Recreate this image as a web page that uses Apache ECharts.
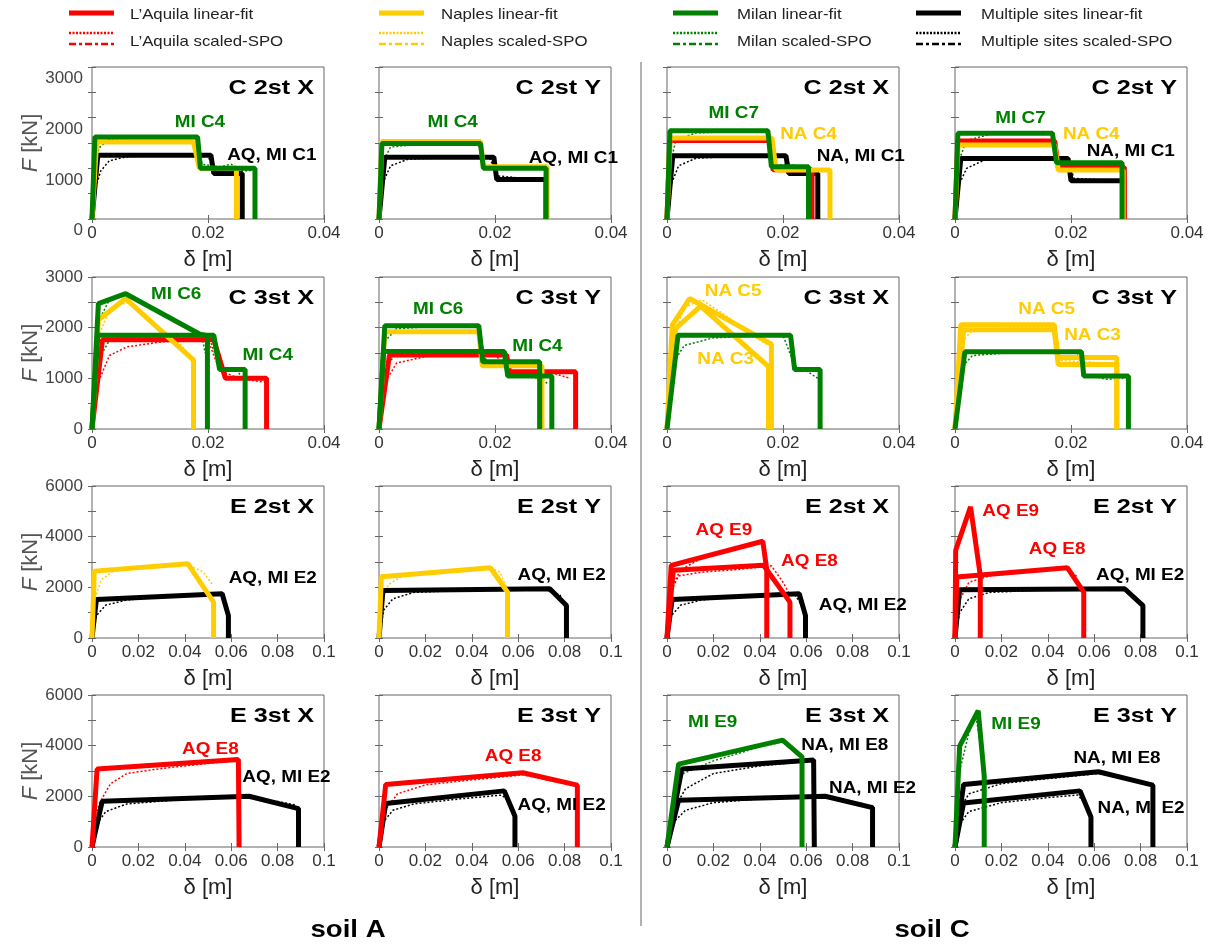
<!DOCTYPE html>
<html>
<head>
<meta charset="utf-8">
<script src="https://cdn.jsdelivr.net/npm/echarts@6/dist/echarts.min.js"></script>
<style>
  html, body { margin: 0; padding: 0; background: #fff; }
  #main { width: 1211px; height: 945px; }
</style>
</head>
<body>
<div id="main"></div>
<script>
// ---- linear-fit curves [delta (m), F (kN)] ----
// soil A, C 2st X
var A_C2X_MS = [[0,0],[0.001,1260],[0.0205,1260],[0.021,900],[0.0259,900],[0.0259,0]];
var A_C2X_NA = [[0,0],[0.0008,1520],[0.0175,1520],[0.0185,1000],[0.0249,1000],[0.0249,0]];
var A_C2X_MI = [[0,0],[0.0005,1620],[0.0182,1620],[0.0187,1000],[0.0281,1000],[0.0281,0]];
// soil A, C 2st Y
var A_C2Y_MS = [[0,0],[0.001,1220],[0.0198,1220],[0.0203,780],[0.0288,780],[0.0288,0]];
var A_C2Y_NA = [[0,0],[0.0005,1530],[0.0175,1530],[0.018,1030],[0.029,1030],[0.029,0]];
var A_C2Y_MI = [[0,0],[0.0005,1490],[0.0175,1490],[0.018,1000],[0.0288,1000],[0.0288,0]];
// soil C, C 2st X
var C_C2X_MS = [[0,0],[0.001,1250],[0.0205,1250],[0.021,900],[0.026,900],[0.026,0]];
var C_C2X_AQ = [[0,0],[0.0005,1550],[0.0176,1550],[0.0183,970],[0.025,970],[0.025,0]];
var C_C2X_NA = [[0,0],[0.0005,1600],[0.0181,1600],[0.0188,965],[0.0281,965],[0.0281,0]];
var C_C2X_MI = [[0,0],[0.0005,1740],[0.0174,1740],[0.018,1030],[0.0244,1030],[0.0244,0]];
// soil C, C 2st Y
var C_C2Y_MS = [[0,0],[0.001,1195],[0.0195,1195],[0.02,755],[0.0291,755],[0.0291,0]];
var C_C2Y_AQ = [[0,0],[0.0005,1540],[0.0172,1540],[0.0178,1020],[0.0292,1020],[0.0292,0]];
var C_C2Y_NA = [[0,0],[0.0005,1460],[0.0172,1460],[0.0178,965],[0.029,965],[0.029,0]];
var C_C2Y_MI = [[0,0],[0.0005,1690],[0.0168,1690],[0.0175,1110],[0.0288,1110],[0.0288,0]];
// soil A, C 3st X
var A_C3X_AQ = [[0,0],[0.0018,1760],[0.021,1760],[0.023,1000],[0.0301,1000],[0.0301,0]];
var A_C3X_NA = [[0,0],[0.0011,2150],[0.0058,2575],[0.0175,1360],[0.0175,0]];
var A_C3X_MI6 = [[0,0],[0.0011,2475],[0.0058,2670],[0.0186,1870],[0.0199,1840],[0.0199,0]];
var A_C3X_MI4 = [[0,0],[0.001,1850],[0.021,1850],[0.022,1175],[0.0264,1175],[0.0264,0]];
// soil A, C 3st Y
var A_C3Y_AQ = [[0,0],[0.0018,1460],[0.022,1460],[0.0225,1130],[0.0339,1130],[0.0339,0]];
var A_C3Y_NA = [[0,0],[0.001,1920],[0.0172,1920],[0.0178,1250],[0.0281,1250],[0.0281,0]];
var A_C3Y_MI6 = [[0,0],[0.001,2040],[0.0172,2040],[0.0179,1325],[0.0277,1325],[0.0277,0]];
var A_C3Y_MI4 = [[0,0],[0.0008,1530],[0.0216,1530],[0.0222,1045],[0.0298,1045],[0.0298,0]];
// soil C, C 3st X
var C_C3X_NA5 = [[0,0],[0.0009,2050],[0.0039,2575],[0.018,1675],[0.018,0]];
var C_C3X_NA3 = [[0,0],[0.0015,1985],[0.0058,2425],[0.0175,1230],[0.0175,0]];
var C_C3X_MI = [[0,0],[0.0019,1850],[0.0213,1850],[0.022,1175],[0.0264,1175],[0.0264,0]];
// soil C, C 3st Y
var C_C3Y_NA5 = [[0,0],[0.001,2060],[0.0171,2060],[0.0178,1410],[0.0279,1410],[0.0279,0]];
var C_C3Y_NA3 = [[0,0],[0.0015,1960],[0.0171,1960],[0.0178,1275],[0.0279,1275],[0.0279,0]];
var C_C3Y_MI = [[0,0],[0.0017,1525],[0.0218,1525],[0.0222,1045],[0.0299,1045],[0.0299,0]];
// soil A, E 2st X / Y
var A_E2X_MS = [[0,0],[0.0019,1520],[0.0561,1745],[0.0588,885],[0.0588,0]];
var A_E2X_NA = [[0,0],[0.001,2640],[0.0413,2935],[0.0524,1415],[0.0524,0]];
var A_E2Y_MS = [[0,0],[0.0017,1875],[0.0736,1945],[0.0808,1280],[0.0808,0]];
var A_E2Y_NA = [[0,0],[0.001,2420],[0.048,2775],[0.0554,1810],[0.0554,0]];
// soil C, E 2st X / Y
var C_E2X_MS = [[0,0],[0.0022,1520],[0.057,1745],[0.0597,885],[0.0597,0]];
var C_E2X_AQ9 = [[0,0],[0.0018,2870],[0.0413,3820],[0.043,2700],[0.043,0]];
var C_E2X_AQ8 = [[0,0],[0.0027,2670],[0.0416,2870],[0.053,1415],[0.053,0]];
var C_E2Y_MS = [[0,0],[0.002,1905],[0.0731,1945],[0.081,1280],[0.081,0]];
var C_E2Y_AQ9 = [[0,0],[0.0003,3465],[0.0067,5180],[0.0109,2470],[0.0109,0]];
var C_E2Y_AQ8 = [[0,0],[0.0008,2405],[0.0484,2775],[0.0555,1810],[0.0555,0]];
// soil A, E 3st X / Y
var A_E3X_MS = [[0,0],[0.0044,1805],[0.0677,2005],[0.089,1515],[0.089,0]];
var A_E3X_AQ = [[0,0],[0.0022,3075],[0.0631,3455],[0.0634,0]];
var A_E3Y_MS = [[0,0],[0.0029,1715],[0.054,2215],[0.0586,1215],[0.0586,0]];
var A_E3Y_AQ = [[0,0],[0.0029,2465],[0.062,2930],[0.0855,2440],[0.0855,0]];
// soil C, E 3st X / Y
var C_E3X_MS2 = [[0,0],[0.005,1845],[0.0682,2005],[0.0886,1555],[0.0886,0]];
var C_E3X_MS8 = [[0,0],[0.0064,3075],[0.0632,3430],[0.0635,0]];
var C_E3X_MI = [[0,0],[0.005,3270],[0.0498,4220],[0.0582,3560],[0.0582,0]];
var C_E3Y_MS2 = [[0,0],[0.0037,1740],[0.0539,2215],[0.0586,1185],[0.0586,0]];
var C_E3Y_MS8 = [[0,0],[0.0037,2465],[0.0618,2970],[0.0853,2440],[0.0853,0]];
var C_E3Y_MI = [[0,0],[0.002,3985],[0.01,5380],[0.0126,2795],[0.0126,0]];

// ---- scaled-SPO curves (thin, dotted) ----
var A_C2X_MS_spo = [[0,0],[0.0006,600],[0.0015,950],[0.003,1150],[0.006,1230],[0.012,1250],[0.02,1250],[0.0205,1100],[0.022,960],[0.024,920],[0.0255,880]];
var A_C2X_MI_spo = [[0,0],[0.0004,900],[0.0012,1400],[0.003,1580],[0.01,1620],[0.0178,1610],[0.019,1080],[0.022,1030],[0.024,1080],[0.026,950],[0.028,960]];
var A_C2Y_MS_spo = [[0,0],[0.0006,700],[0.002,1050],[0.005,1180],[0.012,1210],[0.019,1220],[0.0205,850],[0.028,770]];
var A_C2Y_MI_spo = [[0,0],[0.0005,1100],[0.002,1420],[0.008,1490],[0.017,1500],[0.0182,1050],[0.025,1000],[0.0285,980]];
var C_C2X_MS_spo = [[0,0],[0.0006,650],[0.002,1050],[0.005,1200],[0.012,1240],[0.0202,1250],[0.021,950],[0.024,880],[0.0258,860]];
var C_C2X_MI_spo = [[0,0],[0.0004,1000],[0.0015,1550],[0.005,1700],[0.017,1740],[0.0185,1060],[0.021,1080],[0.024,1000]];
var C_C2Y_MS_spo = [[0,0],[0.0006,650],[0.002,1000],[0.005,1160],[0.012,1190],[0.0195,1200],[0.0205,800],[0.028,760]];
var C_C2Y_MI_spo = [[0,0],[0.0005,1100],[0.002,1550],[0.006,1670],[0.0165,1690],[0.018,1120],[0.022,1100],[0.0285,1080]];
var A_C3X_AQ_spo = [[0,0],[0.001,900],[0.003,1450],[0.006,1620],[0.012,1720],[0.02,1760],[0.022,1150],[0.025,1020],[0.028,950],[0.03,920]];
var A_C3X_MI4_spo = [[0,0],[0.0008,1300],[0.003,1750],[0.008,1830],[0.02,1860],[0.0215,1400],[0.023,1200],[0.025,1150],[0.026,1000]];
var A_C3X_MI6_spo = [[0,0],[0.001,2100],[0.003,2550],[0.006,2650],[0.01,2400],[0.015,2100],[0.019,1800],[0.0195,1500]];
var A_C3X_NA_spo = [[0,0],[0.001,1800],[0.003,2350],[0.006,2500],[0.01,2150],[0.015,1700],[0.0175,1350]];
var A_C3Y_AQ_spo = [[0,0],[0.001,900],[0.003,1300],[0.008,1430],[0.02,1470],[0.0225,1150],[0.03,1100],[0.033,1000]];
var A_C3Y_MI4_spo = [[0,0],[0.0008,1200],[0.003,1480],[0.01,1530],[0.021,1540],[0.0225,1060],[0.028,1000],[0.029,900]];
var A_C3Y_MI6_spo = [[0,0],[0.0008,1700],[0.003,1980],[0.01,2030],[0.017,2040],[0.0185,1330],[0.027,1300]];
var C_C3X_MI_spo = [[0,0],[0.001,1300],[0.003,1650],[0.008,1800],[0.02,1850],[0.022,1250],[0.024,1150],[0.026,1000]];
var C_C3X_NA_spo = [[0,0],[0.001,1800],[0.003,2400],[0.006,2550],[0.01,2250],[0.014,1900],[0.0175,1650]];
var C_C3Y_MI_spo = [[0,0],[0.001,1200],[0.003,1450],[0.01,1510],[0.021,1530],[0.0225,1080],[0.026,980],[0.029,1000]];
var C_C3Y_NA_spo = [[0,0],[0.001,1700],[0.003,1950],[0.01,2000],[0.017,2010],[0.018,1350],[0.027,1300]];
var A_E2X_MS_spo = [[0,0],[0.002,900],[0.006,1300],[0.015,1500],[0.03,1620],[0.05,1720],[0.056,1720],[0.058,1300]];
var A_E2X_NA_spo = [[0,0],[0.001,1500],[0.004,2300],[0.01,2700],[0.025,2800],[0.04,2950],[0.048,2600],[0.052,2100]];
var A_E2Y_MS_spo = [[0,0],[0.002,1100],[0.006,1550],[0.015,1800],[0.04,1900],[0.07,1940],[0.078,1700],[0.08,1350]];
var A_E2Y_NA_spo = [[0,0],[0.001,1400],[0.004,2100],[0.01,2450],[0.03,2600],[0.048,2780],[0.052,2600],[0.055,2000]];
var C_E2X_MS_spo = [[0,0],[0.002,900],[0.006,1300],[0.015,1500],[0.03,1620],[0.055,1730],[0.058,1300]];
var C_E2X_AQ9_spo = [[0,0],[0.002,2000],[0.006,2700],[0.015,3150],[0.03,3550],[0.04,3750]];
var C_E2X_AQ8_spo = [[0,0],[0.002,1900],[0.005,2450],[0.015,2600],[0.03,2700],[0.045,2850],[0.05,2200],[0.053,1700]];
var C_E2Y_MS_spo = [[0,0],[0.002,1000],[0.006,1550],[0.015,1800],[0.04,1900],[0.072,1940],[0.078,1600]];
var C_E2Y_AQ8_spo = [[0,0],[0.002,1500],[0.006,2200],[0.015,2450],[0.03,2600],[0.048,2750],[0.053,2400]];
var A_E3X_MS_spo = [[0,0],[0.002,900],[0.006,1400],[0.015,1700],[0.04,1880],[0.065,1950],[0.08,1800],[0.088,1650]];
var A_E3X_AQ_spo = [[0,0],[0.003,1700],[0.008,2500],[0.015,2900],[0.03,3100],[0.06,3400]];
var A_E3Y_MS_spo = [[0,0],[0.002,1000],[0.006,1450],[0.015,1700],[0.035,1900],[0.053,2050],[0.057,1700]];
var A_E3Y_AQ_spo = [[0,0],[0.003,1500],[0.008,2100],[0.02,2450],[0.04,2650],[0.062,2850],[0.07,2700],[0.08,2500]];
var C_E3X_MS2_spo = [[0,0],[0.003,1000],[0.008,1450],[0.02,1750],[0.04,1900],[0.068,2000],[0.085,1700]];
var C_E3X_MS8_spo = [[0,0],[0.003,1500],[0.008,2300],[0.02,2900],[0.04,3200],[0.062,3400]];
var C_E3X_MI_spo = [[0,0],[0.003,2300],[0.007,2900],[0.02,3400],[0.04,3950],[0.05,4150]];
var C_E3Y_MS2_spo = [[0,0],[0.002,900],[0.006,1400],[0.02,1750],[0.04,1950],[0.053,2050],[0.057,1600]];
var C_E3Y_MS8_spo = [[0,0],[0.002,1500],[0.006,2100],[0.02,2500],[0.04,2700],[0.062,2900],[0.075,2700],[0.083,2450]];
var C_E3Y_MI_spo = [[0,0],[0.002,3000],[0.006,4500],[0.009,5200],[0.011,4000]];

// tick values
var X_TICKS_C = [0, 0.02, 0.04];
var X_TICKS_E = [0, 0.02, 0.04, 0.06, 0.08, 0.1];
var Y_TICKS_C = [0, 1000, 2000, 3000];
var Y_TICKS_E = [0, 2000, 4000, 6000];

var LEGEND_SITES = ['L\u2019Aquila', 'Naples', 'Milan', 'Multiple sites'];

// panels, row by row (soil A, soil A, soil C, soil C)
var PANELS = [
  { title: 'C 2st X', fits: [['MS', A_C2X_MS], ['NA', A_C2X_NA], ['MI', A_C2X_MI]], spos: [['MS', A_C2X_MS_spo], ['MI', A_C2X_MI_spo]],
    labels: [['MI C4', 'MI', 0.0186, 1900], ['AQ, MI C1', 'MS', 0.031, 1260]] },
  { title: 'C 2st Y', fits: [['MS', A_C2Y_MS], ['NA', A_C2Y_NA], ['MI', A_C2Y_MI]], spos: [['MS', A_C2Y_MS_spo], ['MI', A_C2Y_MI_spo]],
    labels: [['MI C4', 'MI', 0.0127, 1900], ['AQ, MI C1', 'MS', 0.0335, 1195]] },
  { title: 'C 2st X', fits: [['MS', C_C2X_MS], ['AQ', C_C2X_AQ], ['NA', C_C2X_NA], ['MI', C_C2X_MI]], spos: [['MS', C_C2X_MS_spo], ['MI', C_C2X_MI_spo]],
    labels: [['MI C7', 'MI', 0.0115, 2080], ['NA C4', 'NA', 0.0244, 1674], ['NA, MI C1', 'MS', 0.0334, 1240]] },
  { title: 'C 2st Y', fits: [['MS', C_C2Y_MS], ['AQ', C_C2Y_AQ], ['NA', C_C2Y_NA], ['MI', C_C2Y_MI]], spos: [['MS', C_C2Y_MS_spo], ['MI', C_C2Y_MI_spo]],
    labels: [['MI C7', 'MI', 0.0113, 1980], ['NA C4', 'NA', 0.0235, 1674], ['NA, MI C1', 'MS', 0.0303, 1326]] },

  { title: 'C 3st X', fits: [['AQ', A_C3X_AQ], ['NA', A_C3X_NA], ['MI', A_C3X_MI4], ['MI', A_C3X_MI6]], spos: [['AQ', A_C3X_AQ_spo], ['MI', A_C3X_MI4_spo], ['MI', A_C3X_MI6_spo], ['NA', A_C3X_NA_spo]],
    labels: [['MI C6', 'MI', 0.0145, 2660], ['MI C4', 'MI', 0.0303, 1457]] },
  { title: 'C 3st Y', fits: [['AQ', A_C3Y_AQ], ['NA', A_C3Y_NA], ['MI', A_C3Y_MI4], ['MI', A_C3Y_MI6]], spos: [['AQ', A_C3Y_AQ_spo], ['MI', A_C3Y_MI4_spo], ['MI', A_C3Y_MI6_spo]],
    labels: [['MI C6', 'MI', 0.0102, 2357], ['MI C4', 'MI', 0.0273, 1621]] },
  { title: 'C 3st X', fits: [['MI', C_C3X_MI], ['NA', C_C3X_NA3], ['NA', C_C3X_NA5]], spos: [['MI', C_C3X_MI_spo], ['NA', C_C3X_NA_spo]],
    labels: [['NA C5', 'NA', 0.0114, 2705], ['NA C3', 'NA', 0.0101, 1372]] },
  { title: 'C 3st Y', fits: [['MI', C_C3Y_MI], ['NA', C_C3Y_NA3], ['NA', C_C3Y_NA5]], spos: [['MI', C_C3Y_MI_spo], ['NA', C_C3Y_NA_spo]],
    labels: [['NA C5', 'NA', 0.0158, 2357], ['NA C3', 'NA', 0.0237, 1851]] },

  { title: 'E 2st X', fits: [['MS', A_E2X_MS], ['NA', A_E2X_NA]], spos: [['MS', A_E2X_MS_spo], ['NA', A_E2X_NA_spo]],
    labels: [['AQ, MI E2', 'MS', 0.0779, 2340]] },
  { title: 'E 2st Y', fits: [['MS', A_E2Y_MS], ['NA', A_E2Y_NA]], spos: [['MS', A_E2Y_MS_spo], ['NA', A_E2Y_NA_spo]],
    labels: [['AQ, MI E2', 'MS', 0.0787, 2470]] },
  { title: 'E 2st X', fits: [['MS', C_E2X_MS], ['AQ', C_E2X_AQ8], ['AQ', C_E2X_AQ9]], spos: [['MS', C_E2X_MS_spo], ['AQ', C_E2X_AQ9_spo], ['AQ', C_E2X_AQ8_spo]],
    labels: [['AQ E9', 'AQ', 0.0245, 4255], ['AQ E8', 'AQ', 0.0614, 3026], ['AQ, MI E2', 'MS', 0.0844, 1282]] },
  { title: 'E 2st Y', fits: [['MS', C_E2Y_MS], ['AQ', C_E2Y_AQ8], ['AQ', C_E2Y_AQ9]], spos: [['MS', C_E2Y_MS_spo], ['AQ', C_E2Y_AQ8_spo]],
    labels: [['AQ E9', 'AQ', 0.024, 4980], ['AQ E8', 'AQ', 0.044, 3490], ['AQ, MI E2', 'MS', 0.0798, 2470]] },

  { title: 'E 3st X', fits: [['MS', A_E3X_MS], ['AQ', A_E3X_AQ]], spos: [['MS', A_E3X_MS_spo], ['AQ', A_E3X_AQ_spo]],
    labels: [['AQ E8', 'AQ', 0.051, 3850], ['AQ, MI E2', 'MS', 0.0838, 2743]] },
  { title: 'E 3st Y', fits: [['MS', A_E3Y_MS], ['AQ', A_E3Y_AQ]], spos: [['MS', A_E3Y_MS_spo], ['AQ', A_E3Y_AQ_spo]],
    labels: [['AQ E8', 'AQ', 0.0578, 3587], ['AQ, MI E2', 'MS', 0.0787, 1648]] },
  { title: 'E 3st X', fits: [['MS', C_E3X_MS2], ['MS', C_E3X_MS8], ['MI', C_E3X_MI]], spos: [['MS', C_E3X_MS2_spo], ['MS', C_E3X_MS8_spo], ['MI', C_E3X_MI_spo]],
    labels: [['MI E9', 'MI', 0.0197, 4905], ['NA, MI E8', 'MS', 0.0766, 4022], ['NA, MI E2', 'MS', 0.0886, 2308]] },
  { title: 'E 3st Y', fits: [['MS', C_E3Y_MS2], ['MS', C_E3Y_MS8], ['MI', C_E3Y_MI]], spos: [['MS', C_E3Y_MS2_spo], ['MS', C_E3Y_MS8_spo], ['MI', C_E3Y_MI_spo]],
    labels: [['MI E9', 'MI', 0.0263, 4813], ['NA, MI E8', 'MS', 0.0698, 3495], ['NA, MI E2', 'MS', 0.0802, 1517]] }
];

// ---- styles / layout ----
var COLORS = { AQ: '#ff0000', NA: '#ffcc00', MI: '#008000', MS: '#000000' };
var ORDER = ['MS', 'AQ', 'NA', 'MI'];
var FONT = '"Liberation Sans", Arial, Helvetica, sans-serif';
var LEFTS = [92, 379, 667, 955];
var TOPS = [67, 277, 486, 695];
var PW = 232, PH = 152;

var grids = [], xAxes = [], yAxes = [], series = [];

PANELS.forEach(function (p, i) {
  var r = Math.floor(i / 4), c = i % 4;
  var isC = r < 2;
  var xTicks = isC ? X_TICKS_C : X_TICKS_E;
  var yTicks = isC ? Y_TICKS_C : Y_TICKS_E;
  var xmax = xTicks[xTicks.length - 1], ymax = yTicks[yTicks.length - 1];
  var yStep = (yTicks[1] - yTicks[0]) / 2;
  var xStep = xTicks[1] - xTicks[0];

  grids.push({
    left: LEFTS[c], top: TOPS[r], width: PW, height: PH,
    show: true, borderColor: '#666', borderWidth: 1, backgroundColor: '#fff',
    outerBoundsMode: 'none', containLabel: false
  });

  var tick = { inside: true, length: 4, lineStyle: { color: '#666', width: 1 } };

  xAxes.push({
    gridIndex: i, type: 'value', position: 'bottom', min: 0, max: xmax, interval: xStep,
    name: '\u03b4 [m]', nameLocation: 'middle', nameGap: 30,
    nameTextStyle: { fontFamily: FONT, fontSize: 22, color: '#222' },
    axisLine: { show: false }, axisTick: tick, splitLine: { show: false },
    axisLabel: { fontFamily: FONT, fontSize: 17, color: '#333', margin: 6 }
  });
  xAxes.push({
    gridIndex: i, type: 'value', position: 'top', min: 0, max: xmax, interval: xStep,
    axisLine: { show: false }, axisTick: tick, splitLine: { show: false }, axisLabel: { show: false }
  });

  yAxes.push({
    gridIndex: i, type: 'value', position: 'left', min: 0, max: ymax, interval: yStep,
    name: c === 0 ? '{i|F} [kN]' : '', nameLocation: 'middle', nameGap: 50, nameRotate: 90,
    nameMoveOverlap: false,
    nameTextStyle: { fontFamily: FONT, fontSize: 22, color: '#555',
      rich: { i: { fontFamily: FONT, fontSize: 22, color: '#555', fontStyle: 'italic' } } },
    axisLine: { show: false }, axisTick: tick, splitLine: { show: false },
    axisLabel: {
      show: c === 0, fontFamily: FONT, fontSize: 17, color: '#444', margin: 9,
      verticalAlign: r === 0 ? 'top' : 'middle', padding: r === 0 ? [3, 0, 0, 0] : 0,
      formatter: function (v) { return yTicks.indexOf(v) >= 0 ? String(v) : ''; }
    }
  });
  yAxes.push({
    gridIndex: i, type: 'value', position: 'right', min: 0, max: ymax, interval: yStep,
    axisLine: { show: false }, axisTick: tick, splitLine: { show: false }, axisLabel: { show: false }
  });

  p.spos.forEach(function (s) {
    series.push({
      type: 'line', xAxisIndex: 2 * i, yAxisIndex: 2 * i, data: s[1],
      showSymbol: false, silent: true, z: 2,
      lineStyle: { color: COLORS[s[0]], width: 1.5, type: [2, 2] }
    });
  });
  ORDER.forEach(function (site) {
    p.fits.forEach(function (f) {
      if (f[0] !== site) return;
      series.push({
        type: 'line', xAxisIndex: 2 * i, yAxisIndex: 2 * i, data: f[1],
        showSymbol: false, silent: true, z: 3,
        lineStyle: { color: COLORS[f[0]], width: 5 }
      });
    });
  });
});

var chart = echarts.init(document.getElementById('main'));
chart.setOption({
  animation: false,
  backgroundColor: '#fff',
  grid: grids, xAxis: xAxes, yAxis: yAxes, series: series
});

// ---- annotations: titles, curve labels, legend, soil captions ----
var g = [];
function txt(text, x, y, font, fill, align, sx) {
  return {
    type: 'text', x: x, y: y, scaleX: sx || 1, z: 100, silent: true,
    style: { text: text, font: font, fill: fill, textAlign: align, align: align,
             textVerticalAlign: 'middle', verticalAlign: 'middle' }
  };
}
PANELS.forEach(function (p, i) {
  var r = Math.floor(i / 4), c = i % 4;
  g.push(txt(p.title, LEFTS[c] + PW - 10, TOPS[r] + 21, 'bold 21px ' + FONT, '#000', 'right', 1.2));
  p.labels.forEach(function (l) {
    var pt = chart.convertToPixel({ gridIndex: i }, [l[2], l[3]]);
    g.push(txt(l[0], pt[0], pt[1], 'bold 16px ' + FONT, COLORS[l[1]], 'center', 1.18));
  });
});

var LEG_X = [69, 379, 673, 916];
var LEG_TX = [130, 441, 737, 981];
var LEG_KEYS = ['AQ', 'NA', 'MI', 'MS'];
LEGEND_SITES.forEach(function (name, k) {
  var col = COLORS[LEG_KEYS[k]];
  var x1 = LEG_X[k], x2 = LEG_X[k] + 45;
  g.push({ type: 'line', silent: true, shape: { x1: x1, y1: 13, x2: x2, y2: 13 }, style: { stroke: col, lineWidth: 5 } });
  g.push({ type: 'line', silent: true, shape: { x1: x1, y1: 33, x2: x2, y2: 33 }, style: { stroke: col, lineWidth: 2.5, lineDash: [2, 1.5] } });
  g.push({ type: 'line', silent: true, shape: { x1: x1, y1: 44, x2: x2, y2: 44 }, style: { stroke: col, lineWidth: 2.5, lineDash: [7, 3, 3, 3] } });
  g.push(txt(name + ' linear-fit', LEG_TX[k], 15, '15px ' + FONT, '#222', 'left', 1.12));
  g.push(txt(name + ' scaled-SPO', LEG_TX[k], 42, '15px ' + FONT, '#222', 'left', 1.12));
});

g.push({ type: 'line', silent: true, shape: { x1: 641, y1: 62, x2: 641, y2: 926 }, style: { stroke: '#999', lineWidth: 1.5 } });
g.push(txt('soil A', 348, 930, 'bold 24px ' + FONT, '#000', 'center', 1.15));
g.push(txt('soil C', 932, 930, 'bold 24px ' + FONT, '#000', 'center', 1.15));

chart.setOption({ graphic: g });
</script>
</body>
</html>
